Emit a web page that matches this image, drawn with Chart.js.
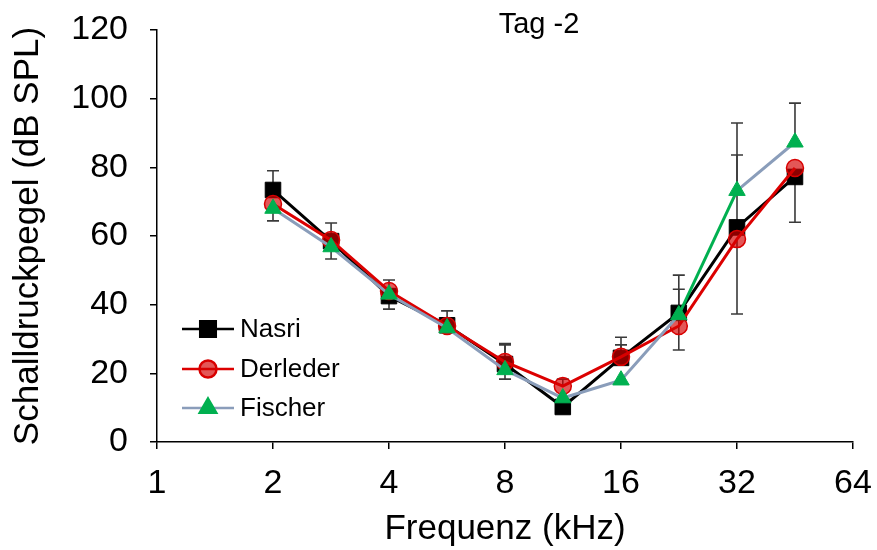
<!DOCTYPE html>
<html>
<head>
<meta charset="utf-8">
<script src="https://cdn.jsdelivr.net/npm/chart.js@4.4.1/dist/chart.umd.min.js"></script>
<style>
  html, body { margin: 0; background: #fff; }
</style>
</head>
<body>
<canvas id="chart" width="877" height="550"></canvas>
<script>
// Frequenzen (kHz) und Achsenbeschriftung
const freqs = [2, 2.83, 4, 5.66, 8, 11.3, 16, 22.6, 32, 45.25];
const xTicks = [1, 2, 4, 8, 16, 32, 64];

// Mittelwerte (dB SPL)
const nasri    = [73.4, 58.5, 42.5, 34.0, 22.7, 10.2, 24.5, 37.6, 62.5, 77.2];
const derleder = [69.3, 58.8, 44.0, 33.8, 23.3, 16.3, 24.8, 33.8, 59.1, 79.8];
const fischer  = [68.0, 56.8, 43.0, 33.2, 21.0, 12.8, 18.0, 37.0, 73.2, 87.3];

// Fehlerbalken nach oben / unten (dB), 0 = kein Balken
const nasriPlus     = [5.6, 5.3, 4.7, 4.2, 6.0, 0, 6.0, 11.0, 21.1, 0];
const nasriMinus    = [0, 5.2, 3.8, 0, 0, 0, 0, 10.8, 0, 13.2];
const derlederPlus  = [0, 0, 0, 0, 5.0, 2.0, 3.5, 0, 0, 0];
const derlederMinus = [0, 0, 0, 0, 5.0, 0, 0, 0, 21.8, 0];
const fischerPlus   = [0, 0, 0, 0, 0, 0, 0, 7.5, 19.7, 11.4];
const fischerMinus  = [3.6, 0, 0, 0, 0, 0, 0, 0, 0, 0];

const FONT = '"Liberation Sans", Arial, sans-serif';
const GREEN = '#00b050';
const BLUEGRAY = '#8a9dba';

const pts = vals => vals.map((v, i) => ({ x: freqs[i], y: v }));

// Fehlerbalken unter den Linien zeichnen
const errorBars = {
  id: 'errorBars',
  beforeDatasetsDraw(chart) {
    const { ctx, scales: { x, y } } = chart;
    ctx.save();
    ctx.strokeStyle = '#3a3a3a';
    ctx.lineWidth = 1.6;
    chart.data.datasets.forEach(ds => {
      ds.data.forEach((p, i) => {
        const px = x.getPixelForValue(p.x);
        const py = y.getPixelForValue(p.y);
        [[ds.errPlus[i], 1], [ds.errMinus[i], -1]].forEach(([e, dir]) => {
          if (!e) return;
          const ey = y.getPixelForValue(p.y + dir * e);
          ctx.beginPath();
          ctx.moveTo(px, py);
          ctx.lineTo(px, ey);
          ctx.moveTo(px - 6, ey);
          ctx.lineTo(px + 6, ey);
          ctx.stroke();
        });
      });
    });
    ctx.restore();
  }
};

// Legende mit Linie + Marker im Diagramm
const lineLegend = {
  id: 'lineLegend',
  afterDraw(chart) {
    const { ctx } = chart;
    const rows = [329, 369, 408];
    ctx.save();
    chart.data.datasets.forEach((ds, i) => {
      const yy = rows[i];
      ctx.strokeStyle = ds.legendLine || ds.borderColor;
      ctx.lineWidth = 2.5;
      ctx.beginPath();
      ctx.moveTo(182, yy);
      ctx.lineTo(234, yy);
      ctx.stroke();
      ctx.fillStyle = ds.pointBackgroundColor;
      ctx.strokeStyle = ds.pointBorderColor;
      Chart.helpers.drawPoint(ctx, {
        pointStyle: ds.pointStyle, radius: ds.pointRadius,
        borderWidth: ds.pointBorderWidth, rotation: 0
      }, 208, yy);
      ctx.fillStyle = '#000';
      ctx.font = '26px ' + FONT;
      ctx.textBaseline = 'middle';
      ctx.textAlign = 'left';
      ctx.fillText(ds.label, 240, yy + 1);
    });
    ctx.restore();
  }
};

const tagTitle = {
  id: 'tagTitle',
  afterDraw(chart) {
    const { ctx } = chart;
    ctx.save();
    ctx.fillStyle = '#000';
    ctx.font = '29px ' + FONT;
    ctx.textAlign = 'center';
    ctx.textBaseline = 'middle';
    ctx.fillText('Tag -2', 539, 25);
    ctx.restore();
  }
};

new Chart(document.getElementById('chart'), {
  type: 'line',
  data: {
    datasets: [
      {
        label: 'Nasri',
        data: pts(nasri),
        errPlus: nasriPlus, errMinus: nasriMinus,
        borderColor: '#000', borderWidth: 3,
        pointStyle: 'rect', pointRadius: 11,
        pointBackgroundColor: '#000', pointBorderColor: '#000', pointBorderWidth: 1,
        order: 3
      },
      {
        label: 'Derleder',
        data: pts(derleder),
        errPlus: derlederPlus, errMinus: derlederMinus,
        borderColor: '#dc0000', borderWidth: 3,
        pointStyle: 'circle', pointRadius: 8.5,
        pointBackgroundColor: 'rgba(212, 0, 0, 0.66)', pointBorderColor: '#d80000', pointBorderWidth: 1.5,
        order: 2
      },
      {
        label: 'Fischer',
        data: pts(fischer),
        errPlus: fischerPlus, errMinus: fischerMinus,
        borderColor: BLUEGRAY, borderWidth: 3, legendLine: BLUEGRAY,
        segment: { borderColor: c => c.p0DataIndex === 7 ? GREEN : BLUEGRAY },
        pointStyle: 'triangle', pointRadius: 9.5,
        pointBackgroundColor: GREEN, pointBorderColor: GREEN, pointBorderWidth: 1,
        order: 1
      }
    ]
  },
  options: {
    responsive: false,
    animation: false,
    layout: { padding: { top: 30, right: 24, left: 0, bottom: 0 } },
    plugins: {
      legend: { display: false },
      tooltip: { enabled: false }
    },
    scales: {
      x: {
        type: 'logarithmic',
        min: 1, max: 64,
        afterBuildTicks: s => { s.ticks = xTicks.map(v => ({ value: v })); },
        afterFit: s => { s.height = 108; s.paddingLeft = 0; s.paddingRight = 0; },
        ticks: {
          callback: v => String(v),
          color: '#000', padding: 14, maxRotation: 0, autoSkip: false,
          font: { family: FONT, size: 34 }
        },
        grid: { drawOnChartArea: false, tickLength: 7, color: '#000', lineWidth: 1.5 },
        border: { display: true, color: '#000', width: 1.5 },
        title: {
          display: true, text: 'Frequenz (kHz)', color: '#000',
          font: { family: FONT, size: 35 }, padding: { top: 0, bottom: 0 }
        }
      },
      y: {
        min: 0, max: 120,
        afterFit: s => { s.width = 157; s.paddingTop = 0; s.paddingBottom = 0; },
        ticks: {
          stepSize: 20, color: '#000', padding: 22,
          font: { family: FONT, size: 34 }
        },
        grid: { drawOnChartArea: false, tickLength: 7, color: '#000', lineWidth: 1.5 },
        border: { display: true, color: '#000', width: 1.5 },
        title: {
          display: true, text: 'Schalldruckpegel (dB SPL)', color: '#000',
          font: { family: FONT, size: 35 }, padding: { top: 7, bottom: 0 }
        }
      }
    }
  },
  plugins: [errorBars, lineLegend, tagTitle]
});
</script>
</body>
</html>
